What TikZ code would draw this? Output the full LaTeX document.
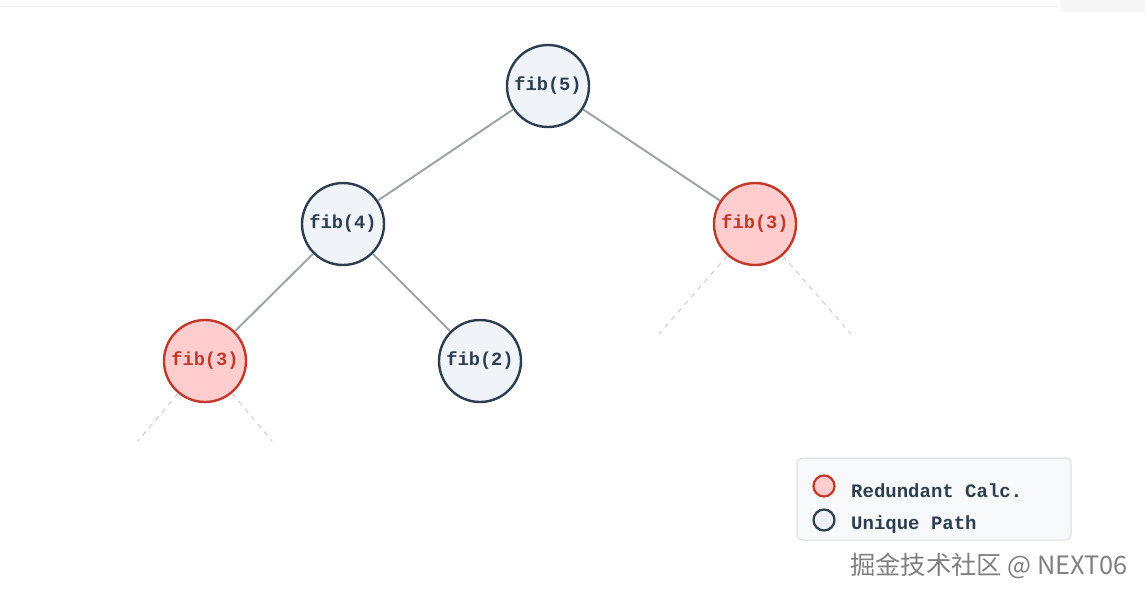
\documentclass[tikz,border=0pt]{standalone}
\usepackage{fontspec}
\setmonofont{Liberation Mono}
\newfontfamily\cjk{Noto Sans CJK SC}
\definecolor{dk}{HTML}{2C3E50}
\definecolor{dkfill}{HTML}{F0F4F8}
\definecolor{rd}{HTML}{C0392B}
\definecolor{rdfill}{HTML}{FFCDCD}
\definecolor{edge}{HTML}{9EA5A6}
\definecolor{dash}{HTML}{CCCCCC}
\definecolor{legfill}{HTML}{F8F9FA}
\definecolor{legline}{HTML}{DDDDDD}
\begin{document}
\begin{tikzpicture}[x=1pt,y=-1pt,
  fibnode/.style={circle,minimum size=82pt,inner sep=0pt,line width=2.4pt,
    font=\fontsize{18.7}{22}\selectfont\ttfamily\bfseries},
  uniq/.style={fibnode,draw=dk,fill=dkfill,text=dk},
  redun/.style={fibnode,draw=rd,fill=rdfill,text=rd},
  solidedge/.style={draw=edge,line width=2pt},
  dashedge/.style={draw=dash,line width=1pt,dash pattern=on 5pt off 5pt},
  legtext/.style={anchor=west,inner sep=0pt,text=dk,font=\fontsize{19}{22}\selectfont\ttfamily\bfseries},
  legdot/.style={circle,minimum size=21pt,inner sep=0pt,line width=2.2pt}]
\useasboundingbox (0,0) rectangle (1145,599);
\fill[white] (0,0) rectangle (1145,599);
% top strip
\draw[draw=black!7,line width=1pt] (0,6.5) -- (1058,6.5);
\fill[black!3] (1060,0) rectangle (1145,12);

\node[uniq]  (f5)  at (548,86)  {fib(5)};
\node[uniq]  (f4)  at (343,224) {fib(4)};
\node[redun] (f3r) at (755,224) {fib(3)};
\node[redun] (f3l) at (205,361) {fib(3)};
\node[uniq]  (f2)  at (480,361) {fib(2)};

\coordinate (a1) at (659,334);
\coordinate (a2) at (851,334);
\coordinate (b1) at (138,441);
\coordinate (b2) at (272,441);

\draw[solidedge] (f5) -- (f4);
\draw[solidedge] (f5) -- (f3r);
\draw[solidedge] (f4) -- (f3l);
\draw[solidedge] (f4) -- (f2);
\draw[dashedge] (f3r) -- (a1);
\draw[dashedge] (f3r) -- (a2);
\draw[dashedge] (f3l) -- (b1);
\draw[dashedge] (f3l) -- (b2);

% legend
\node[draw=legline,fill=legfill,rounded corners=5pt,line width=1pt,
  minimum width=274pt,minimum height=82pt,inner sep=0pt] (leg) at (934,499) {};
\node[legdot,draw=rd,fill=rdfill] (ld1) at (824,486) {};
\node[legdot,draw=dk,fill=dkfill] (ld2) at (824,520) {};
\node[legtext] (lt1) at (851,491) {Redundant Calc.};
\node[legtext] (lt2) at (851,525) {Unique Path};

% watermark
\node[anchor=west,inner sep=0pt,text=black!50,font=\cjk\fontsize{25.3}{28}\selectfont] (wm) at (850,566) {掘金技术社区 @ NEXT06};
\end{tikzpicture}
\end{document}
